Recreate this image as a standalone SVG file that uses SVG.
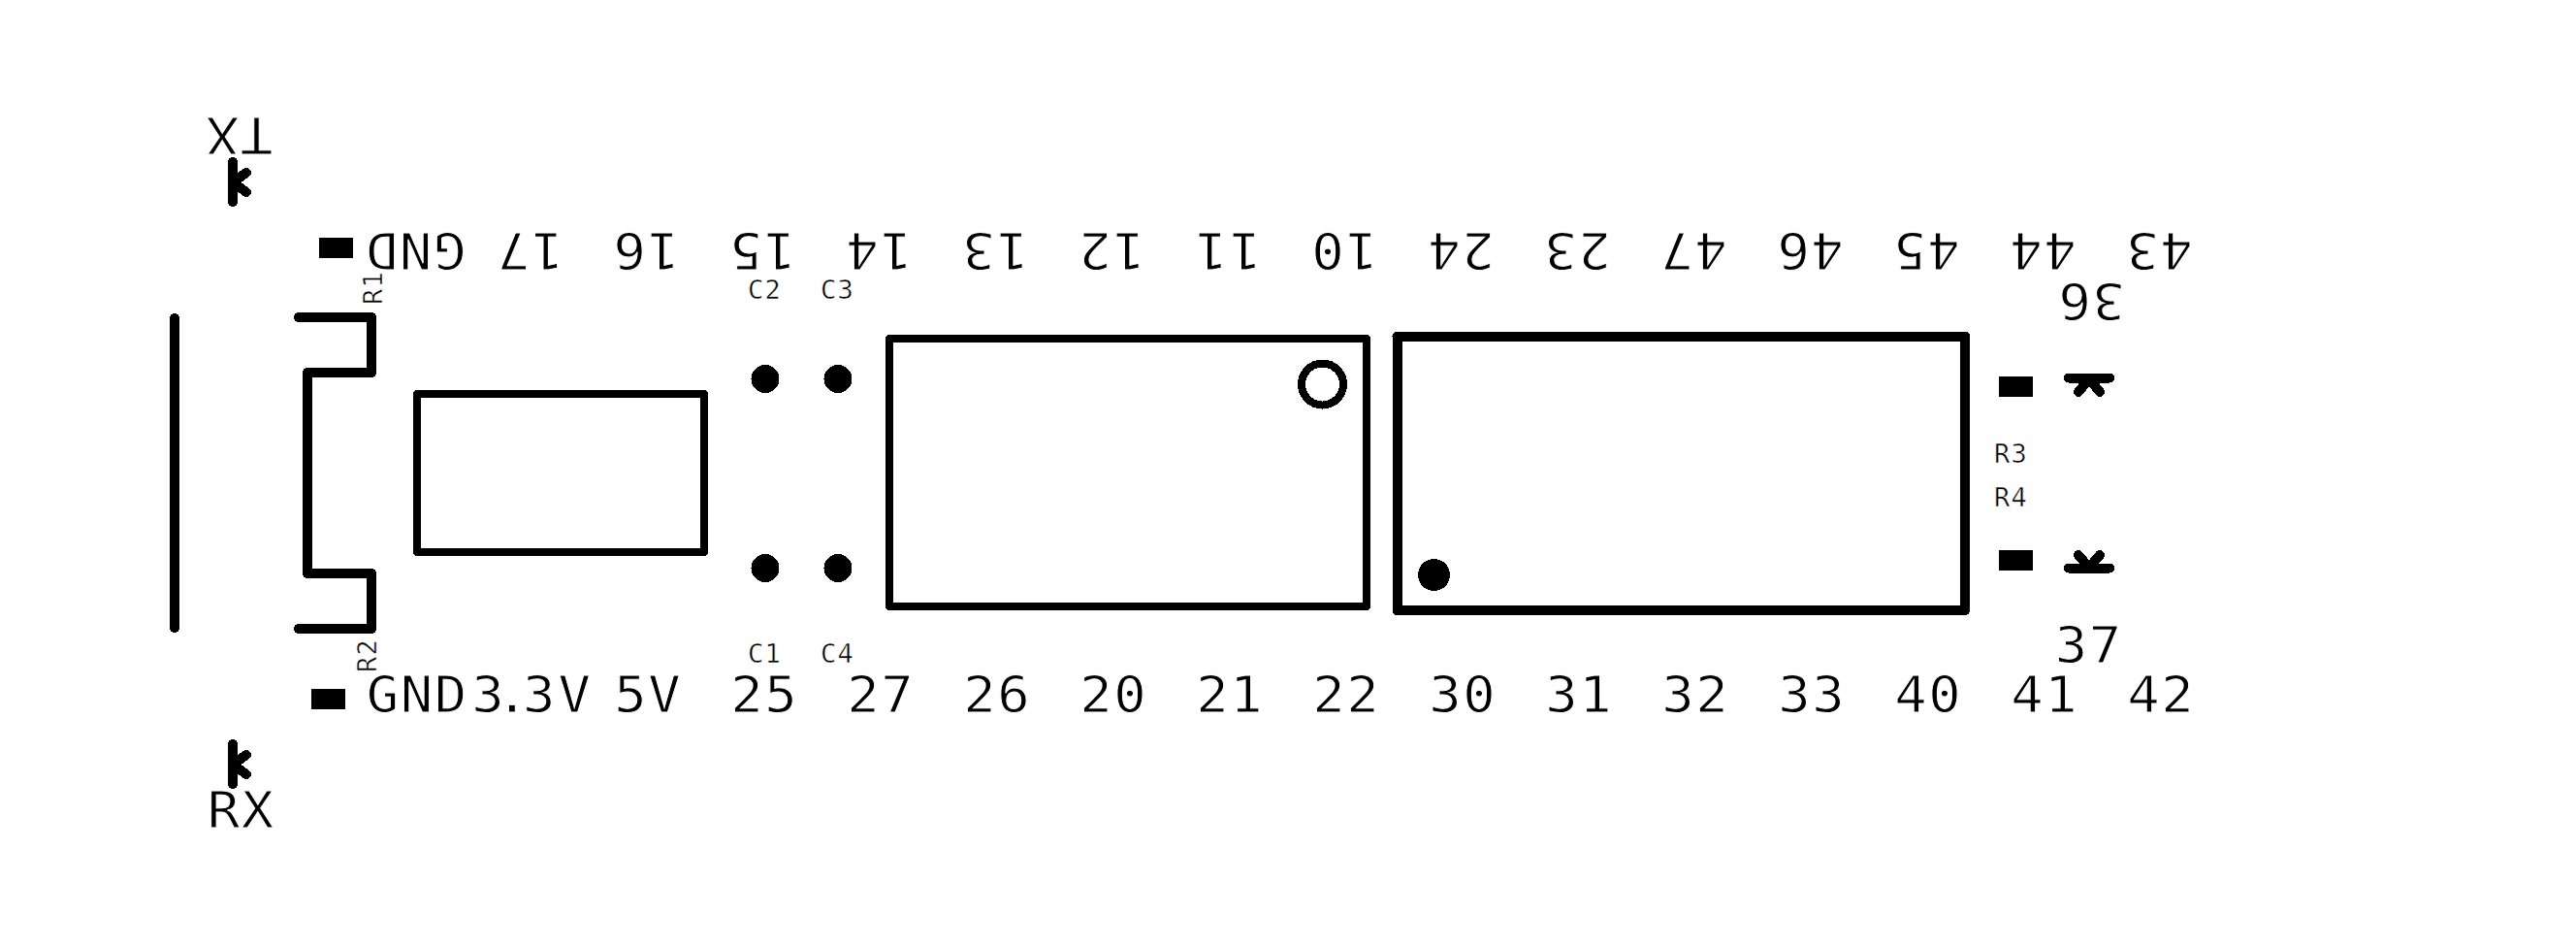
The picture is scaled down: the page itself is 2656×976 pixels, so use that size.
<svg xmlns="http://www.w3.org/2000/svg" width="2656" height="976" viewBox="0 0 2656 976">
<style>
text{font-family:"DejaVu Sans Mono","Liberation Mono",monospace;fill:#000;opacity:.999}
.b{font-size:51px;letter-spacing:1.4px;stroke:#fff;stroke-width:.9px}
.s{font-size:27px;letter-spacing:1.2px;stroke:#fff;stroke-width:.5px}
.l{fill:none;stroke:#000;stroke-linecap:round;stroke-linejoin:round;shape-rendering:crispEdges}
.w10{stroke-width:10}
.w8{stroke-width:8}
circle,rect{shape-rendering:crispEdges}
</style>
<rect width="2656" height="976" fill="#fff"/>
<g id="connectors">
<path class="l w10" d="M180 328V647"/>
<path class="l w10" d="M308 327H383V384H317V591H383V648H308"/>
</g>
<g id="U1"><rect class="l w8" x="430" y="406" width="296" height="163"/></g>
<g id="U2"><rect class="l w8" x="917" y="349" width="492" height="276"/><circle class="l w8" cx="1363.5" cy="396" r="21.5"/></g>
<g id="U3"><rect class="l w10" x="1440.5" y="346.5" width="585.5" height="282.5"/><circle cx="1478.5" cy="592.5" r="16.5"/></g>
<g id="C1"><circle cx="789" cy="585.5" r="14.5"/><text class="s" transform="translate(773 683)" x="-2">C1</text></g>
<g id="C2"><circle cx="789" cy="390.5" r="14.5"/><text class="s" transform="translate(773 308)" x="-2">C2</text></g>
<g id="C3"><circle cx="864" cy="390.5" r="14.5"/><text class="s" transform="translate(848 308)" x="-2">C3</text></g>
<g id="C4"><circle cx="864" cy="585.5" r="14.5"/><text class="s" transform="translate(848 683)" x="-2">C4</text></g>
<g id="R1"><rect x="329" y="245" width="35" height="21"/><text class="s" transform="translate(394 314) rotate(-90)">R1</text></g>
<g id="R2"><rect x="321" y="710" width="35" height="21"/><text class="s" transform="translate(388 693) rotate(-90)">R2</text></g>
<g id="R3"><rect x="2061" y="388" width="35" height="21"/><text class="s" transform="translate(2058 477)" x="-2">R3</text></g>
<g id="R4"><rect x="2061" y="567" width="35" height="21"/><text class="s" transform="translate(2058 522)" x="-2">R4</text></g>
<g id="TX"><path class="l w10" d="M240 167V208M254 178L240 188L254 198"/><text class="b" transform="translate(247.500 121) rotate(180) scale(1.09 1)" x="-31">TX</text></g>
<g id="RX"><path class="l w10" d="M240 767V808M254 778L240 788L254 798"/><text class="b" transform="translate(247.500 853) scale(1.09 1)" x="-31">RX</text></g>
<g id="LED36"><path class="l w10" d="M2133 389.500H2175M2143 404L2154 390L2165 404"/><text class="b" transform="translate(2157 292) rotate(180) scale(1.09 1)" x="-31">36</text></g>
<g id="LED37"><path class="l w10" d="M2133 585.500H2175M2143 572L2154 585L2165 572"/><text class="b" transform="translate(2152.500 683) scale(1.09 1)" x="-31">37</text></g>
<g id="top-labels">
<text class="b" transform="translate(429 240) rotate(180) scale(1.09 1)" x="-47">GND</text>
<text class="b" transform="translate(547.500 240) rotate(180) scale(1.09 1)" x="-31">17</text>
<text class="b" transform="translate(667 240) rotate(180) scale(1.09 1)" x="-31">16</text>
<text class="b" transform="translate(787 240) rotate(180) scale(1.09 1)" x="-31">15</text>
<text class="b" transform="translate(907 240) rotate(180) scale(1.09 1)" x="-31">14</text>
<text class="b" transform="translate(1027 240) rotate(180) scale(1.09 1)" x="-31">13</text>
<text class="b" transform="translate(1147 240) rotate(180) scale(1.09 1)" x="-31">12</text>
<text class="b" transform="translate(1267 240) rotate(180) scale(1.09 1)" x="-31">11</text>
<text class="b" transform="translate(1387 240) rotate(180) scale(1.09 1)" x="-31">10</text>
<text class="b" transform="translate(1507 240) rotate(180) scale(1.09 1)" x="-31">24</text>
<text class="b" transform="translate(1627 240) rotate(180) scale(1.09 1)" x="-31">23</text>
<text class="b" transform="translate(1747 240) rotate(180) scale(1.09 1)" x="-31">47</text>
<text class="b" transform="translate(1867 240) rotate(180) scale(1.09 1)" x="-31">46</text>
<text class="b" transform="translate(1987 240) rotate(180) scale(1.09 1)" x="-31">45</text>
<text class="b" transform="translate(2107 240) rotate(180) scale(1.09 1)" x="-31">44</text>
<text class="b" transform="translate(2227 240) rotate(180) scale(1.09 1)" x="-31">43</text>
</g>
<g id="bottom-labels">
<text class="b" transform="translate(429 734) scale(1.09 1)" x="-47">GND</text>
<text class="b" transform="translate(0 734) scale(1.09 1)" x="446 469 494.500 528" style="letter-spacing:0">3.3V</text>
<text class="b" transform="translate(667 734) scale(1.09 1)" x="-31">5V</text>
<text class="b" transform="translate(787 734) scale(1.09 1)" x="-31">25</text>
<text class="b" transform="translate(907 734) scale(1.09 1)" x="-31">27</text>
<text class="b" transform="translate(1027 734) scale(1.09 1)" x="-31">26</text>
<text class="b" transform="translate(1147 734) scale(1.09 1)" x="-31">20</text>
<text class="b" transform="translate(1267 734) scale(1.09 1)" x="-31">21</text>
<text class="b" transform="translate(1387 734) scale(1.09 1)" x="-31">22</text>
<text class="b" transform="translate(1507 734) scale(1.09 1)" x="-31">30</text>
<text class="b" transform="translate(1627 734) scale(1.09 1)" x="-31">31</text>
<text class="b" transform="translate(1747 734) scale(1.09 1)" x="-31">32</text>
<text class="b" transform="translate(1867 734) scale(1.09 1)" x="-31">33</text>
<text class="b" transform="translate(1987 734) scale(1.09 1)" x="-31">40</text>
<text class="b" transform="translate(2107 734) scale(1.09 1)" x="-31">41</text>
<text class="b" transform="translate(2227 734) scale(1.09 1)" x="-31">42</text>
</g>
</svg>
